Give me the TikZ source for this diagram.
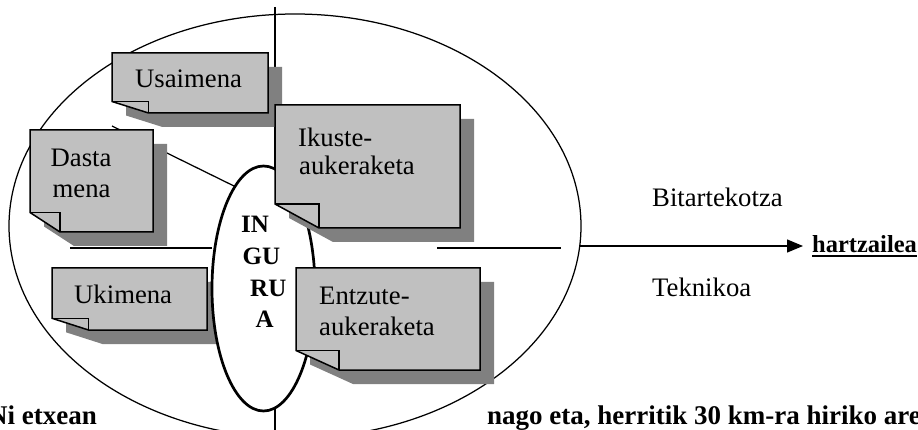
\documentclass[tikz,border=0pt]{standalone}
\usepackage{fontspec}
\setmainfont{Liberation Serif}
\usetikzlibrary{shapes.geometric,arrows.meta}

\definecolor{boxgray}{HTML}{C0C0C0}
\definecolor{shadowgray}{HTML}{808080}

% Folded-corner note with a drop shadow:
% #1,#2 top-left corner; #3,#4 bottom-right corner; #5,#6 fold width and height
\newcommand\foldnote[6]{%
  \fill[shadowgray, shift={(14,14)}]
    (#1,#2) -- (#3,#2) -- (#3,#4) -- ({#1+#5},#4) -- (#1,{#4-#6}) -- cycle;
  \draw[noteline, fill=boxgray]
    (#1,#2) -- (#3,#2) -- (#3,#4) -- ({#1+#5},#4) -- (#1,{#4-#6}) -- cycle;
  \draw[noteline, line join=miter]
    (#1,{#4-#6}) -- ({#1+#5},{#4-#6}) -- ({#1+#5},#4);
}

\tikzset{
  noteline/.style={line width=1.5pt},
  thinline/.style={line width=1.25pt},
  notetext/.style={anchor=base west, inner sep=0pt, font=\fontsize{26.7}{30}\selectfont},
  boldtext/.style={anchor=base west, inner sep=0pt, font=\fontsize{25}{28}\selectfont\bfseries},
  bottomtext/.style={inner sep=0pt, font=\fontsize{27}{30}\selectfont\bfseries},
}

\begin{document}
\begin{tikzpicture}[x=1pt,y=-1pt]
\useasboundingbox (0,0) rectangle (918,430);
\fill[white] (0,0) rectangle (918,430);
\clip (0,0) rectangle (918,430);

% outer ellipse
\node[ellipse, draw, thinline, minimum width=572pt, minimum height=424pt, inner sep=0pt]
  (world) at (295,226) {};

% dividing lines
\coordinate (vtop) at (275,7);
\coordinate (vbot) at (275,430);
\coordinate (hleftA) at (70,248);
\coordinate (hleftB) at (212,248);
\coordinate (hrightA) at (437,248);
\coordinate (hrightB) at (561,248);
\coordinate (dstart) at (112,126);
\coordinate (dend) at (236,187);
\draw[thinline] (vtop) -- (vbot);
\draw[thinline] (hleftA) -- (hleftB);
\draw[thinline] (hrightA) -- (hrightB);
\draw[thinline] (dstart) -- (dend);

% notes on the left
\foldnote{112}{53}{268}{113}{36.5}{11.5}
\node[notetext] (usaimena) at (135,88) {Usaimena};

\foldnote{30}{130}{153}{232}{30}{19.5}
\node[notetext] (dasta) at (50.5,166.5) {Dasta};
\node[notetext] (mena) at (52.5,198) {mena};

\foldnote{52}{268}{207}{330}{36.5}{11.7}
\node[notetext] (ukimena) at (74,304) {Ukimena};

% inner ellipse
\node[ellipse, draw, line width=2.7pt, fill=white, minimum width=103pt,
  minimum height=245pt, inner sep=0pt] (inner) at (263.5,288.5) {};
\node[boldtext] (in) at (241,233) {IN};
\node[boldtext] (gu) at (242.5,265) {GU};
\node[boldtext] (ru) at (250,297) {RU};
\node[boldtext] (aa) at (255.5,327) {A};

% notes on the right
\foldnote{275}{105}{460}{228}{44}{24}
\node[notetext] (ikuste) at (298,147) {Ikuste-};
\node[notetext] (ikusteb) at (299,174.5) {aukeraketa};

\foldnote{296}{268}{480}{370}{43}{19.5}
\node[notetext] (entzute) at (319,305) {Entzute-};
\node[notetext] (entzuteb) at (319,335.5) {aukeraketa};

% channel to the receiver
\node[notetext] (bitarte) at (652,207) {Bitartekotza};
\node[notetext] (teknikoa) at (652,297) {Teknikoa};
\coordinate (astart) at (579.7,246);
\coordinate (aend) at (803,246);
\draw[thinline, -{Triangle[length=16pt,width=13pt]}] (astart) -- (aend);
\node[boldtext, font=\fontsize{24.5}{28}\selectfont\bfseries] (hartz) at (812,253) {hartzailea};
\draw[line width=1.4pt] ([yshift=-3.2pt]hartz.base west) -- ([yshift=-3.2pt]hartz.base east);

% running text along the bottom, running off both edges
\node[bottomtext, anchor=base east] (nietxean) at (97,424) {Ni etxean};
\node[bottomtext, anchor=base west] (nago) at (487,424) {nago eta, herritik 30 km-ra hiriko are};
\end{tikzpicture}
\end{document}
